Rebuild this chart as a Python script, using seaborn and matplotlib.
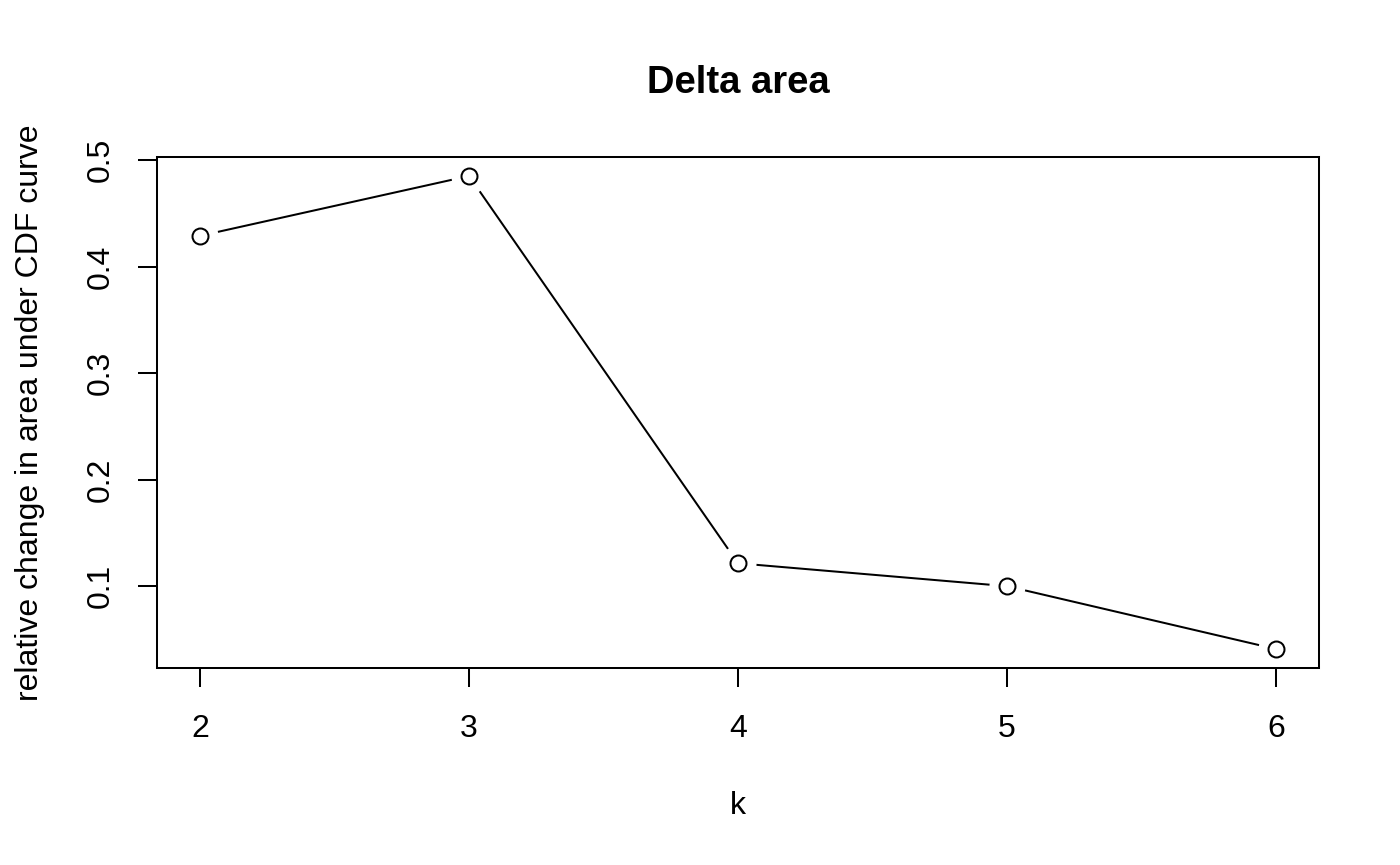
import matplotlib
matplotlib.use("Agg")
import matplotlib.pyplot as plt
import seaborn as sns
import pandas as pd

k_values = [2, 3, 4, 5, 6]
delta_area = [0.4288, 0.485, 0.1215, 0.100, 0.041]
y_ticks = [0.1, 0.2, 0.3, 0.4, 0.5]

sns.set_style("white")
plt.rcParams['font.family'] = ['Liberation Sans', 'DejaVu Sans']
plt.rcParams['text.color'] = 'black'
plt.rcParams['axes.labelcolor'] = 'black'

df = pd.DataFrame({"k": k_values, "delta": delta_area})

fig = plt.figure(figsize=(14, 8.65), dpi=100)
ax = fig.add_axes([157/1400, 1 - 668/865, (1319-157)/1400, (668-157)/865])

sns.lineplot(data=df, x="k", y="delta", ax=ax, color="black", linewidth=1.45, zorder=1)
sns.scatterplot(data=df, x="k", y="delta", ax=ax, s=26**2, color="white", linewidth=0, zorder=2)
sns.scatterplot(data=df, x="k", y="delta", ax=ax, s=11.5**2, facecolor="white",
                edgecolor="black", linewidth=1.45, zorder=3)

ax.set_xlim(1.84, 6.16)
ax.set_ylim(0.0232, 0.5028)
ax.set_xticks(k_values)
ax.set_xticklabels([str(v) for v in k_values])
ax.set_yticks(y_ticks)
ax.set_yticklabels([f"{v:.1f}" for v in y_ticks], rotation=90, va="center")

for s in ax.spines.values():
    s.set_visible(True)
    s.set_color("black")
    s.set_linewidth(1.45)

ax.tick_params(axis="both", direction="out", length=14, width=1.45, color="black",
               labelsize=23, labelcolor="black", bottom=True, left=True)
ax.tick_params(axis="x", pad=19)
ax.tick_params(axis="y", pad=16)

ax.set_xlabel("k", fontsize=23, labelpad=34)
ax.set_ylabel("relative change in area under CDF curve", fontsize=23, labelpad=29)
ax.set_title("Delta area", fontsize=27.5, fontweight="bold", pad=46, color="black")

fig.savefig("out.png", dpi=100, facecolor="white")
